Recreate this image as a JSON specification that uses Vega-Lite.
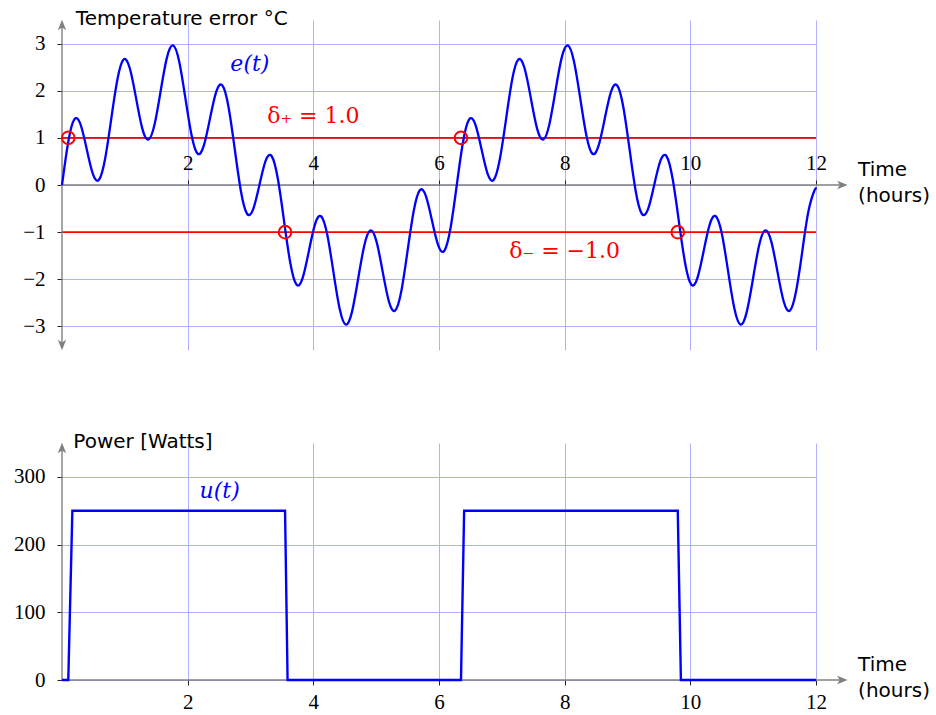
{
  "$schema": "https://vega.github.io/schema/vega-lite/v6.json",
  "autosize": {"type": "pad"},
  "padding": {"left": 13, "top": 8, "right": 0, "bottom": 0},
  "background": "white",
  "config": {"view": {"stroke": null}},
  "spacing": 93,
  "bounds": "flush",
  "datasets": {
    "err": [
      {"t":0,"v":0},{"t":0.098,"v":0.903},{"t":0.196,"v":1.39},{"t":0.295,"v":1.288},{"t":0.393,"v":0.765},{"t":0.491,"v":0.236},{"t":0.589,"v":0.111},{"t":0.687,"v":0.562},
      {"t":0.785,"v":1.414},{"t":0.884,"v":2.253},{"t":0.982,"v":2.663},{"t":1.08,"v":2.471},{"t":1.178,"v":1.848},{"t":1.276,"v":1.207},{"t":1.374,"v":0.962},{"t":1.473,"v":1.283},
      {"t":1.571,"v":2.0},{"t":1.669,"v":2.697},{"t":1.767,"v":2.962},{"t":1.865,"v":2.621},{"t":1.963,"v":1.848},{"t":2.062,"v":1.057},{"t":2.16,"v":0.663},{"t":2.258,"v":0.839},
      {"t":2.356,"v":1.414},{"t":2.454,"v":1.976},{"t":2.553,"v":2.111},{"t":2.651,"v":1.65},{"t":2.749,"v":0.765},{"t":2.847,"v":-0.126},{"t":2.945,"v":-0.61},{"t":3.043,"v":-0.511},
      {"t":3.142,"v":0},{"t":3.24,"v":0.511},{"t":3.338,"v":0.61},{"t":3.436,"v":0.126},{"t":3.534,"v":-0.765},{"t":3.633,"v":-1.65},{"t":3.731,"v":-2.111},{"t":3.829,"v":-1.976},
      {"t":3.927,"v":-1.414},{"t":4.025,"v":-0.839},{"t":4.123,"v":-0.663},{"t":4.222,"v":-1.057},{"t":4.32,"v":-1.848},{"t":4.418,"v":-2.621},{"t":4.516,"v":-2.962},{"t":4.614,"v":-2.697},
      {"t":4.712,"v":-2.0},{"t":4.811,"v":-1.283},{"t":4.909,"v":-0.962},{"t":5.007,"v":-1.207},{"t":5.105,"v":-1.848},{"t":5.203,"v":-2.471},{"t":5.301,"v":-2.663},{"t":5.4,"v":-2.253},
      {"t":5.498,"v":-1.414},{"t":5.596,"v":-0.562},{"t":5.694,"v":-0.111},{"t":5.792,"v":-0.236},{"t":5.89,"v":-0.765},{"t":5.989,"v":-1.288},{"t":6.087,"v":-1.39},{"t":6.185,"v":-0.903},
      {"t":6.283,"v":0},{"t":6.381,"v":0.903},{"t":6.48,"v":1.39},{"t":6.578,"v":1.288},{"t":6.676,"v":0.765},{"t":6.774,"v":0.236},{"t":6.872,"v":0.111},{"t":6.97,"v":0.562},
      {"t":7.069,"v":1.414},{"t":7.167,"v":2.253},{"t":7.265,"v":2.663},{"t":7.363,"v":2.471},{"t":7.461,"v":1.848},{"t":7.559,"v":1.207},{"t":7.658,"v":0.962},{"t":7.756,"v":1.283},
      {"t":7.854,"v":2.0},{"t":7.952,"v":2.697},{"t":8.05,"v":2.962},{"t":8.148,"v":2.621},{"t":8.247,"v":1.848},{"t":8.345,"v":1.057},{"t":8.443,"v":0.663},{"t":8.541,"v":0.839},
      {"t":8.639,"v":1.414},{"t":8.737,"v":1.976},{"t":8.836,"v":2.111},{"t":8.934,"v":1.65},{"t":9.032,"v":0.765},{"t":9.13,"v":-0.126},{"t":9.228,"v":-0.61},{"t":9.327,"v":-0.511},
      {"t":9.425,"v":0},{"t":9.523,"v":0.511},{"t":9.621,"v":0.61},{"t":9.719,"v":0.126},{"t":9.817,"v":-0.765},{"t":9.916,"v":-1.65},{"t":10.014,"v":-2.111},{"t":10.112,"v":-1.976},
      {"t":10.21,"v":-1.414},{"t":10.308,"v":-0.839},{"t":10.406,"v":-0.663},{"t":10.505,"v":-1.057},{"t":10.603,"v":-1.848},{"t":10.701,"v":-2.621},{"t":10.799,"v":-2.962},{"t":10.897,"v":-2.697},
      {"t":10.996,"v":-2.0},{"t":11.094,"v":-1.283},{"t":11.192,"v":-0.962},{"t":11.29,"v":-1.207},{"t":11.388,"v":-1.848},{"t":11.486,"v":-2.471},{"t":11.585,"v":-2.663},{"t":11.683,"v":-2.253},
      {"t":11.781,"v":-1.414},{"t":11.879,"v":-0.562},{"t":11.977,"v":-0.111},{"t":12,"v":-0.09}
    ],
    "power": [
      {"t":0,"v":0},{"t":0.1,"v":0},{"t":0.165,"v":250},{"t":3.55,"v":250},{"t":3.59,"v":0},
      {"t":6.35,"v":0},{"t":6.4,"v":250},{"t":9.8,"v":250},{"t":9.85,"v":0},{"t":12,"v":0}
    ]
  },
  "vconcat": [
    {
      "width": 754,
      "height": 330,
      "encoding": {
        "x": {"field": "t", "type": "quantitative", "scale": {"domain": [0, 12], "nice": false, "zero": false},
          "axis": {"orient": "top", "offset": -165, "values": [2, 4, 6, 8, 10, 12], "domain": false, "ticks": true, "tickSize": 5, "tickColor": "#222", "tickWidth": 1,
            "labelFont": "Liberation Serif", "labelFontSize": 21, "labelColor": "#000", "labelPadding": 7, "labelFlush": false, "labelOverlap": false,
            "grid": true, "gridColor": "#b0b0ff", "gridWidth": 1, "title": null}},
        "y": {"field": "v", "type": "quantitative", "scale": {"domain": [-3.5, 3.5], "nice": false, "zero": false},
          "axis": {"values": [-3, -2, -1, 0, 1, 2, 3], "domain": false, "ticks": true, "tickSize": 5, "tickColor": "#222", "tickWidth": 1,
            "labelFont": "Liberation Serif", "labelFontSize": 21, "labelColor": "#000", "labelPadding": 12, "labelOverlap": false,
            "grid": true, "gridColor": "#b0b0ff", "gridWidth": 1, "title": null}}
      },
      "layer": [
        {
          "data": {"values": [{"t": 0, "t2": 12, "v": 1}, {"t": 0, "t2": 12, "v": -1}]},
          "mark": {"type": "rule", "color": "#ff0000", "strokeWidth": 1.6},
          "encoding": {"x2": {"field": "t2"}}
        },
        {
          "data": {"values": [{"t": 0, "t2": 12.45, "v": 0, "v2": 0}, {"t": 0, "t2": 0, "v": -3.45, "v2": 3.45}]},
          "mark": {"type": "rule", "color": "#808080", "strokeWidth": 1.4},
          "encoding": {"x2": {"field": "t2"}, "y2": {"field": "v2"}}
        },
        {
          "data": {"values": [{"t": 12.5, "v": 0}]},
          "mark": {"type": "point", "shape": "M1,0L-1,-0.8L-0.5,0L-1,0.8Z", "filled": true, "color": "#808080", "opacity": 1, "size": 110, "xOffset": -5, "strokeWidth": 0},
          "encoding": {}
        },
        {
          "data": {"values": [{"t": 0, "v": 3.5}]},
          "mark": {"type": "point", "shape": "M1,0L-1,-0.8L-0.5,0L-1,0.8Z", "filled": true, "color": "#808080", "opacity": 1, "size": 110, "angle": 270, "yOffset": 5, "strokeWidth": 0},
          "encoding": {}
        },
        {
          "data": {"values": [{"t": 0, "v": -3.5}]},
          "mark": {"type": "point", "shape": "M1,0L-1,-0.8L-0.5,0L-1,0.8Z", "filled": true, "color": "#808080", "opacity": 1, "size": 110, "angle": 90, "yOffset": -5, "strokeWidth": 0},
          "encoding": {}
        },
        {
          "data": {"name": "err"},
          "mark": {"type": "line", "color": "#0000ff", "strokeWidth": 2.3, "interpolate": "natural"},
          "encoding": {}
        },
        {
          "data": {"values": [{"t": 0.1, "v": 1}, {"t": 3.55, "v": -1}, {"t": 6.35, "v": 1}, {"t": 9.8, "v": -1}]},
          "mark": {"type": "point", "shape": "circle", "filled": false, "color": "#ff0000", "opacity": 1, "size": 160, "strokeWidth": 2},
          "encoding": {}
        },
        {
          "data": {"values": [{"t": 0.22, "v": 3.53, "label": "Temperature error °C"}, {"t": 12.67, "v": 0.31, "label": "Time\n(hours)"}]},
          "mark": {"type": "text", "font": "DejaVu Sans", "fontSize": 20, "color": "#000", "align": "left", "baseline": "middle", "lineBreak": "\n", "lineHeight": 26},
          "encoding": {"text": {"field": "label"}}
        },
        {
          "data": {"values": [{"t": 2.99, "v": 2.57, "label": "e(t)"}]},
          "mark": {"type": "text", "font": "DejaVu Serif", "fontSize": 22, "fontStyle": "italic", "color": "#0000ff", "align": "center", "baseline": "middle"},
          "encoding": {"text": {"field": "label"}}
        },
        {
          "data": {"values": [{"t": 4.0, "v": 1.47, "label": "δ₊ = 1.0"}, {"t": 8.0, "v": -1.4, "label": "δ₋ = −1.0"}]},
          "mark": {"type": "text", "font": "DejaVu Serif", "fontSize": 22, "color": "#ff0000", "align": "center", "baseline": "middle"},
          "encoding": {"text": {"field": "label"}}
        }
      ]
    },
    {
      "width": 754,
      "height": 237,
      "encoding": {
        "x": {"field": "t", "type": "quantitative", "scale": {"domain": [0, 12], "nice": false, "zero": false},
          "axis": {"orient": "bottom", "values": [2, 4, 6, 8, 10, 12], "domain": false, "ticks": true, "tickSize": 5, "tickColor": "#222", "tickWidth": 1,
            "labelFont": "Liberation Serif", "labelFontSize": 21, "labelColor": "#000", "labelPadding": 6, "labelFlush": false, "labelOverlap": false,
            "grid": true, "gridColor": "#b0b0ff", "gridWidth": 1, "title": null}},
        "y": {"field": "v", "type": "quantitative", "scale": {"domain": [0, 350], "nice": false, "zero": false},
          "axis": {"values": [0, 100, 200, 300], "domain": false, "ticks": true, "tickSize": 5, "tickColor": "#222", "tickWidth": 1,
            "labelFont": "Liberation Serif", "labelFontSize": 21, "labelColor": "#000", "labelPadding": 12, "labelOverlap": false,
            "grid": true, "gridColor": "#b0b0ff", "gridWidth": 1, "title": null}}
      },
      "layer": [
        {
          "data": {"values": [{"t": 0, "t2": 12.45, "v": 0, "v2": 0}, {"t": 0, "t2": 0, "v": 0, "v2": 345}]},
          "mark": {"type": "rule", "color": "#808080", "strokeWidth": 1.4},
          "encoding": {"x2": {"field": "t2"}, "y2": {"field": "v2"}}
        },
        {
          "data": {"values": [{"t": 12.5, "v": 0}]},
          "mark": {"type": "point", "shape": "M1,0L-1,-0.8L-0.5,0L-1,0.8Z", "filled": true, "color": "#808080", "opacity": 1, "size": 110, "xOffset": -5, "strokeWidth": 0},
          "encoding": {}
        },
        {
          "data": {"values": [{"t": 0, "v": 350}]},
          "mark": {"type": "point", "shape": "M1,0L-1,-0.8L-0.5,0L-1,0.8Z", "filled": true, "color": "#808080", "opacity": 1, "size": 110, "angle": 270, "yOffset": 5, "strokeWidth": 0},
          "encoding": {}
        },
        {
          "data": {"name": "power"},
          "mark": {"type": "line", "color": "#0000ff", "strokeWidth": 2.4},
          "encoding": {}
        },
        {
          "data": {"values": [{"t": 0.18, "v": 351, "label": "Power [Watts]"}, {"t": 12.67, "v": 22, "label": "Time\n(hours)"}]},
          "mark": {"type": "text", "font": "DejaVu Sans", "fontSize": 20, "color": "#000", "align": "left", "baseline": "middle", "lineBreak": "\n", "lineHeight": 26},
          "encoding": {"text": {"field": "label"}}
        },
        {
          "data": {"values": [{"t": 2.51, "v": 279, "label": "u(t)"}]},
          "mark": {"type": "text", "font": "DejaVu Serif", "fontSize": 22, "fontStyle": "italic", "color": "#0000ff", "align": "center", "baseline": "middle"},
          "encoding": {"text": {"field": "label"}}
        }
      ]
    }
  ]
}
